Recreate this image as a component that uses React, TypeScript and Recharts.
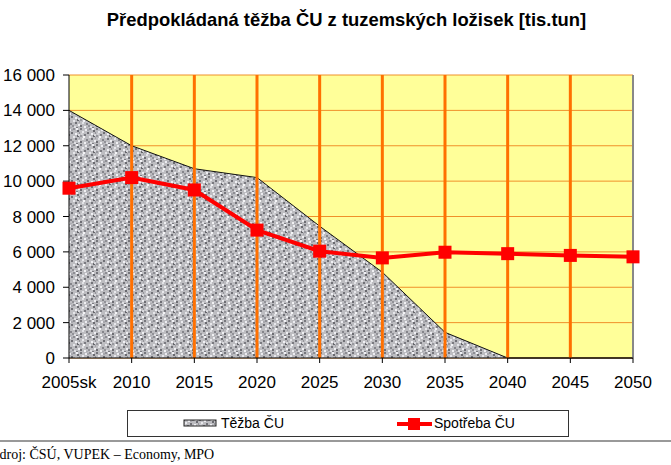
import { ComposedChart, Area, Line, XAxis, YAxis, CartesianGrid, ReferenceLine, Legend } from "recharts";

const years = ["2005sk", "2010", "2015", "2020", "2025", "2030", "2035", "2040", "2045", "2050"];
const tezba = [14000, 12000, 10700, 10200, 7450, 4850, 1450, 0, 0, 0];
const spotreba = [9600, 10200, 9500, 7230, 6040, 5660, 5980, 5900, 5800, 5720];
const yTicks = [0, 2000, 4000, 6000, 8000, 10000, 12000, 14000, 16000];

const data = years.map((year, i) => ({ year, tezba: tezba[i], spotreba: spotreba[i] }));

// hand placed speckles for the granite-like fill (16x16 tile)
const speckles: [number, number, string][] = [
  [0, 0, "#76767c"], [5, 1, "#ececf0"], [9, 0, "#8d8d93"], [13, 2, "#6a6a70"],
  [2, 3, "#e8e8ec"], [7, 4, "#707076"], [11, 5, "#f0f0f4"], [15, 4, "#94949a"],
  [0, 7, "#98989e"], [4, 6, "#7a7a80"], [9, 8, "#e6e6ea"], [13, 7, "#66666c"],
  [2, 10, "#e2e2e6"], [6, 11, "#84848a"], [11, 10, "#727278"], [14, 12, "#eeeef2"],
  [0, 13, "#6e6e74"], [4, 14, "#f0f0f2"], [8, 13, "#929298"], [12, 15, "#7a7a80"],
  [7, 1, "#a8a8ae"], [3, 8, "#f4f4f6"], [15, 9, "#a2a2a8"], [10, 14, "#dedee2"],
  [1, 5, "#d0d0d4"], [12, 0, "#f2f2f6"], [6, 15, "#acacb2"], [14, 6, "#dadade"],
];

const fmt = (v: number) => v.toLocaleString("en-US").replace(/,/g, " ");

const SquareDot = (props: any) => {
  const { cx, cy } = props;
  if (cx == null || cy == null) return null;
  return <rect x={cx - 6.5} y={cy - 6.5} width={13} height={13} fill="#FF0000" />;
};

const LegendBox = () => (
  <div
    style={{
      position: "absolute",
      left: 127,
      top: 410,
      width: 440,
      height: 25,
      border: "1px solid #333",
      background: "#fff",
      fontFamily: "'Liberation Sans', Arial, sans-serif",
      fontSize: 14,
      color: "#000",
    }}
  >
    <svg width={40} height={10} style={{ position: "absolute", left: 55, top: 8 }}>
      <rect x={1} y={1} width={32} height={6} fill="url(#granite)" stroke="#222" strokeWidth={1} />
    </svg>
    <span style={{ position: "absolute", left: 93, top: 4 }}>Těžba ČU</span>
    <svg width={40} height={16} style={{ position: "absolute", left: 269, top: 5 }}>
      <line x1={0} y1={8} x2={35} y2={8} stroke="#FF0000" strokeWidth={4} />
      <rect x={11} y={2} width={12} height={12} fill="#FF0000" />
    </svg>
    <span style={{ position: "absolute", left: 306, top: 4 }}>Spotřeba ČU</span>
  </div>
);

export default function App() {
  const tickFont = { fill: "#000", fontSize: 17, fontFamily: "'Liberation Sans', Arial, sans-serif" };
  return (
    <div style={{ position: "absolute", left: 0, top: 0, width: 671, height: 465, background: "#fff", overflow: "hidden" }}>
      <div
        style={{
          position: "absolute",
          left: 0,
          top: 9,
          width: 693,
          textAlign: "center",
          fontFamily: "'Liberation Sans', Arial, sans-serif",
          fontWeight: "bold",
          fontSize: 18.4,
        }}
      >
        Předpokládaná těžba ČU z tuzemských ložisek [tis.tun]
      </div>
      <ComposedChart
        width={671}
        height={465}
        data={data}
        margin={{ top: 75, right: 38, left: 9, bottom: 77 }}
        style={{ position: "absolute", left: 0, top: 0 }}
      >
        <defs>
          <pattern id="granite" width={16} height={16} patternUnits="userSpaceOnUse">
            <rect width={16} height={16} fill="#bdbdc1" />
            {speckles.map(([x, y, c], i) => (
              <rect key={i} x={x} y={y} width={2} height={2} fill={c} />
            ))}
          </pattern>
        </defs>
        <CartesianGrid vertical={false} fill="#FFFF99" stroke="#F0902A" strokeWidth={1} />
        <XAxis
          dataKey="year"
          interval={0}
          padding={{ left: 0, right: 0 }}
          height={30}
          tickSize={5}
          tickMargin={13}
          axisLine={{ stroke: "#000" }}
          tickLine={{ stroke: "#000" }}
          tick={tickFont}
        />
        <YAxis
          domain={[0, 16000]}
          ticks={yTicks}
          width={60}
          tickSize={6}
          tickMargin={8}
          tickFormatter={fmt}
          axisLine={{ stroke: "#000" }}
          tickLine={{ stroke: "#000" }}
          tick={tickFont}
        />
        <Area
          type="linear"
          dataKey="tezba"
          name="Těžba ČU"
          fill="url(#granite)"
          fillOpacity={1}
          stroke="#111"
          strokeWidth={1}
          isAnimationActive={false}
        />
        {years.slice(1, -1).map((y) => (
          <ReferenceLine key={y} x={y} stroke="#FF7000" strokeWidth={3} zIndex={150} />
        ))}
        <ReferenceLine x="2050" stroke="#888" strokeWidth={2} zIndex={150} />
        <Line
          type="linear"
          dataKey="spotreba"
          name="Spotřeba ČU"
          stroke="#FF0000"
          strokeWidth={4}
          dot={<SquareDot />}
          activeDot={false}
          isAnimationActive={false}
        />
        <Legend content={() => null} />
      </ComposedChart>
      <LegendBox />
      <div style={{ position: "absolute", left: 0, top: 440, width: 671, height: 0, borderTop: "2px solid #999" }} />
      <div
        style={{
          position: "absolute",
          left: -9,
          top: 447,
          fontFamily: "'Liberation Serif', 'Times New Roman', serif",
          fontSize: 14,
          whiteSpace: "nowrap",
        }}
      >
        Zdroj: ČSÚ, VUPEK – Economy, MPO
      </div>
    </div>
  );
}
